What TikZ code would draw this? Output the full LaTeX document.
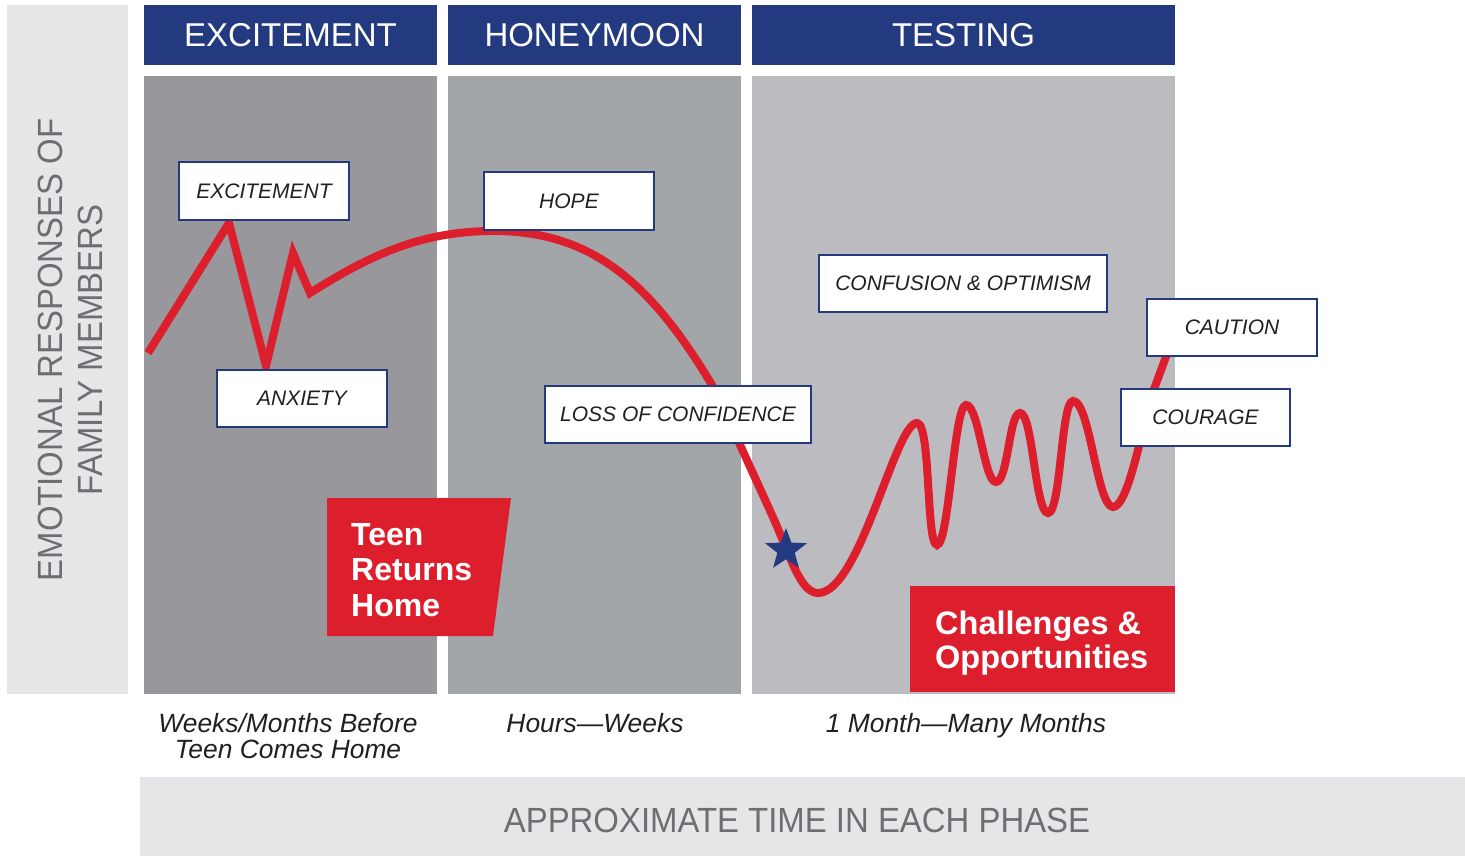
\documentclass[tikz,border=0pt]{standalone}
\usepackage{fontspec}
\setmainfont{Liberation Sans}
\newfontfamily\narrowfont[FakeStretch=0.94]{Liberation Sans}
\usetikzlibrary{shapes.geometric}
\definecolor{navy}{HTML}{233A80}
\definecolor{cred}{HTML}{DD1F2D}
\definecolor{pone}{HTML}{98979B}
\definecolor{ptwo}{HTML}{A3A6A9}
\definecolor{pthree}{HTML}{BCBCC0}
\definecolor{lightbar}{HTML}{E6E6E9}
\definecolor{labgray}{HTML}{6D6E71}
\definecolor{darktext}{HTML}{231F20}
\tikzset{
  header/.style={fill=navy, text=white, minimum height=60, inner sep=0, font=\fontsize{33}{40}\selectfont},
  panel/.style={minimum height=618, inner sep=0},
  label/.style={draw=navy, line width=2, fill=white, minimum height=57, inner sep=0, text=darktext, font=\itshape\fontsize{21}{25}\selectfont},
  redtext/.style={text=white, align=left, inner sep=0, font=\bfseries\fontsize{32}{35.5}\selectfont},
  timelabel/.style={text=darktext, inner sep=0, font=\itshape\fontsize{26.4}{26.5}\selectfont},
  axislabel/.style={text=labgray, inner sep=0, font=\narrowfont\fontsize{35}{40}\selectfont},
  curve/.style={draw=cred, line width=8, line join=miter},
}
\begin{document}
\begin{tikzpicture}[x=1pt,y=-1pt]
\useasboundingbox[fill=white] (0,0) rectangle (1465,856);
% side and bottom bars
\fill[lightbar] (7,5) rectangle (128,694);
\fill[lightbar] (140,777) rectangle (1465,856);
\node[axislabel, rotate=90, align=center] (ylab) at (70,350) {EMOTIONAL RESPONSES OF\\FAMILY MEMBERS};
\node[axislabel] (xlab) at (797,820) {APPROXIMATE TIME IN EACH PHASE};
% headers
\node[header, minimum width=293] (h1) at (290.5,35) {EXCITEMENT};
\node[header, minimum width=293] (h2) at (594.5,35) {HONEYMOON};
\node[header, minimum width=423] (h3) at (963.5,35) {TESTING};
% panels
\node[panel, fill=pone, minimum width=293] (p1) at (290.5,385) {};
\node[panel, fill=ptwo, minimum width=293] (p2) at (594.5,385) {};
\node[panel, fill=pthree, minimum width=423] (p3) at (963.5,385) {};
% red boxes
\fill[cred] (327,498) -- (511,498) -- (493,636) -- (327,636) -- cycle;
\node[redtext, anchor=west] (teen) at (351,570) {Teen\\Returns\\Home};
\fill[cred] (910,586) rectangle (1175,692);
\node[redtext, anchor=west, font=\bfseries\fontsize{32.5}{34}\selectfont] (chal) at (935,643) {Challenges \&\\Opportunities};
% curve
\draw[curve] (148,353) -- (229,223) -- (266,366) -- (293,253) -- (310,293)
  .. controls (370,255) and (420,232) .. (490,231)
  .. controls (590,230) and (650,280) .. (715,390)
  -- (772,515)
  .. controls (790,555) and (800,593) .. (818,593)
  .. controls (860,593) and (895,423) .. (917,423)
  .. controls (931,423) and (926,545) .. (937,545)
  .. controls (949,545) and (954,405) .. (966,405)
  .. controls (979,405) and (984,482) .. (996,482)
  .. controls (1008,482) and (1009,413) .. (1020,413)
  .. controls (1033,413) and (1035,513) .. (1048,513)
  .. controls (1061,513) and (1061,401) .. (1073,401)
  .. controls (1090,401) and (1097,507) .. (1113,507)
  .. controls (1127,507) and (1140,440) .. (1150,400)
  -- (1167,354);
\node[star, star points=5, star point ratio=2.4, fill=navy, minimum size=44, inner sep=0] (star) at (786,550) {};
% labels
\node[label, minimum width=170] (lexc) at (264,191) {EXCITEMENT};
\node[label, minimum width=170] (lanx) at (302,398) {ANXIETY};
\node[label, minimum width=170] (lhope) at (569,201) {HOPE};
\node[label, minimum width=288] (lconf) at (963,283) {CONFUSION \& OPTIMISM};
\node[label, minimum width=266] (lloss) at (678,414) {LOSS OF CONFIDENCE};
\node[label, minimum width=170] (lcaut) at (1232,327) {CAUTION};
\node[label, minimum width=169] (lcour) at (1205.5,417) {COURAGE};
% time labels
\node[timelabel, align=center] (t1) at (288,736) {Weeks/Months Before\\Teen Comes Home};
\node[timelabel, anchor=base] (t2) at (595,732) {Hours—Weeks};
\node[timelabel, anchor=base] (t3) at (966,732) {1 Month—Many Months};
\end{tikzpicture}
\end{document}
